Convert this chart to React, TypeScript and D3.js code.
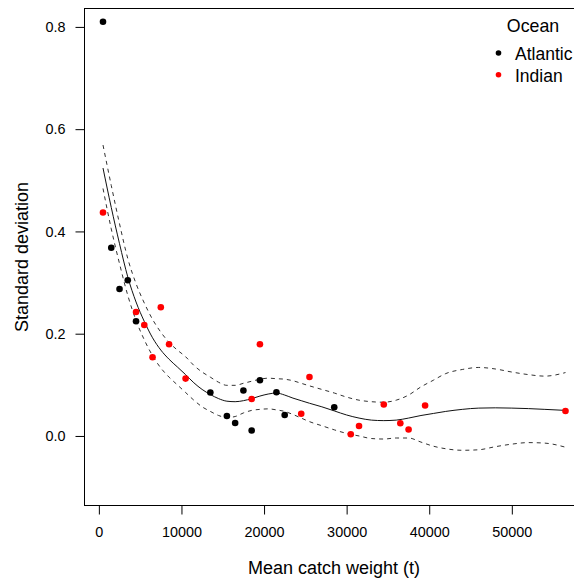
import React, { useEffect, useRef } from 'react';
import * as d3 from 'd3';

// mean catch weight (t) and standard deviation, per ocean
const atlanticX = [500, 1500, 2500, 3500, 4500, 13500, 15500, 16500, 17500, 18500, 19500, 21500, 22500, 28500];
const atlanticY = [0.81, 0.368, 0.2875, 0.3045, 0.2244, 0.0849, 0.0391, 0.0254, 0.0888, 0.0106, 0.109, 0.0855, 0.0411, 0.0561];
const indianX = [500, 4500, 5500, 6500, 7500, 8500, 10500, 18500, 19500, 24500, 25500, 30500, 31500, 34500, 36500, 37500, 39500, 56500];
const indianY = [0.437, 0.2425, 0.2171, 0.1539, 0.2517, 0.1794, 0.1122, 0.0724, 0.1794, 0.0434, 0.1154, 0.0033, 0.0196, 0.0614, 0.0248, 0.0125, 0.0595, 0.0489];

// smoother fit and confidence band
const gridX = [500, 1500, 2500, 3500, 4500, 5500, 6500, 7500, 8500, 9500, 10500, 11500, 12500, 13500, 14500, 15500, 16500, 17500, 18500, 19500, 20500, 21500, 22500, 23500, 24500, 25500, 27000, 28500, 30000, 31500, 33000, 34500, 36000, 37500, 39000, 40500, 42000, 44000, 46000, 48000, 50000, 52000, 54000, 56500];
const fitY = [0.524, 0.447, 0.376, 0.311, 0.262, 0.224, 0.192, 0.168, 0.15, 0.135, 0.12, 0.104, 0.091, 0.081, 0.073, 0.068, 0.067, 0.069, 0.073, 0.078, 0.082, 0.084, 0.08, 0.074, 0.069, 0.064, 0.057, 0.049, 0.041, 0.035, 0.031, 0.03, 0.031, 0.035, 0.04, 0.044, 0.048, 0.052, 0.0545, 0.055, 0.0545, 0.0535, 0.052, 0.05];
const upperY = [0.569, 0.49, 0.415, 0.347, 0.298, 0.26, 0.228, 0.203, 0.183, 0.168, 0.155, 0.138, 0.125, 0.115, 0.105, 0.099, 0.099, 0.103, 0.107, 0.111, 0.113, 0.112, 0.111, 0.108, 0.103, 0.098, 0.091, 0.084, 0.076, 0.07, 0.067, 0.066, 0.07, 0.08, 0.096, 0.109, 0.122, 0.13, 0.134, 0.131, 0.125, 0.12, 0.117, 0.124];
const lowerY = [0.484, 0.405, 0.337, 0.275, 0.226, 0.188, 0.157, 0.133, 0.115, 0.1, 0.085, 0.07, 0.057, 0.048, 0.04, 0.036, 0.038, 0.045, 0.05, 0.052, 0.053, 0.051, 0.048, 0.042, 0.035, 0.028, 0.02, 0.012, 0.005, 0.0, -0.005, -0.006, -0.004, -0.004, -0.012, -0.02, -0.025, -0.028, -0.027, -0.021, -0.016, -0.013, -0.014, -0.022];

const xTicks = [0, 10000, 20000, 30000, 40000, 50000];
const yTicks = [0, 0.2, 0.4, 0.6, 0.8];
const oceans = ['Atlantic', 'Indian'];
const colors = ['#000000', '#ff0000'];

const App = () => {
  const chartRef = useRef<SVGSVGElement>(null);

  useEffect(() => {
    const svg = d3.select(chartRef.current);
    svg.selectAll('*').remove();
    const font = '"Liberation Sans", Arial, sans-serif';

    const x = d3.scaleLinear().domain([-1740, 58740]).range([84.5, 584]);
    const y = d3.scaleLinear().domain([-0.136, 0.836]).range([505.5, 8.5]);

    svg
      .append('rect')
      .attr('x', 84.5)
      .attr('y', 8.5)
      .attr('width', 500)
      .attr('height', 497)
      .attr('fill', 'none')
      .attr('stroke', '#000');

    const xAxis = svg
      .append('g')
      .attr('transform', 'translate(0,505.5)')
      .call(d3.axisBottom(x).tickValues(xTicks).tickFormat(d3.format('d')).tickSize(9).tickPadding(12));
    xAxis.select('.domain').remove();
    xAxis.selectAll('text').attr('font-size', 14.4).attr('font-family', font).attr('fill', '#000');

    const yAxis = svg
      .append('g')
      .attr('transform', 'translate(84.5,0)')
      .call(d3.axisLeft(y).tickValues(yTicks).tickFormat(d3.format('.1f')).tickSize(9).tickPadding(10));
    yAxis.select('.domain').remove();
    yAxis.selectAll('text').attr('font-size', 14.4).attr('font-family', font).attr('fill', '#000');

    svg
      .append('text')
      .attr('x', 334)
      .attr('y', 574)
      .attr('text-anchor', 'middle')
      .attr('font-size', 18)
      .attr('font-family', font)
      .text('Mean catch weight (t)');

    svg
      .append('text')
      .attr('transform', 'translate(28,257) rotate(-90)')
      .attr('text-anchor', 'middle')
      .attr('font-size', 18)
      .attr('font-family', font)
      .text('Standard deviation');

    const line = (ys: number[]) =>
      d3
        .line<number>()
        .x((d, i) => x(gridX[i]))
        .y(d => y(d))
        .curve(d3.curveMonotoneX)(ys);

    svg.append('path').attr('d', line(upperY)).attr('fill', 'none').attr('stroke', '#333').attr('stroke-dasharray', '4,4');
    svg.append('path').attr('d', line(lowerY)).attr('fill', 'none').attr('stroke', '#333').attr('stroke-dasharray', '4,4');
    svg.append('path').attr('d', line(fitY)).attr('fill', 'none').attr('stroke', '#111');

    const pts = [
      ...atlanticX.map((v, i) => ({ x: v, y: atlanticY[i], c: colors[0] })),
      ...indianX.map((v, i) => ({ x: v, y: indianY[i], c: colors[1] }))
    ];
    svg
      .selectAll('.pt')
      .data(pts)
      .enter()
      .append('circle')
      .attr('class', 'pt')
      .attr('cx', d => x(d.x))
      .attr('cy', d => y(d.y))
      .attr('r', 3.3)
      .attr('fill', d => d.c);

    // legend
    const legend = svg.append('g');
    legend
      .append('text')
      .attr('x', 533)
      .attr('y', 32)
      .attr('text-anchor', 'middle')
      .attr('font-size', 17.8)
      .attr('font-family', font)
      .text('Ocean');
    oceans.forEach((o, i) => {
      legend
        .append('circle')
        .attr('cx', 498.5)
        .attr('cy', 53 + i * 21.7)
        .attr('r', 2.8)
        .attr('fill', colors[i]);
      legend
        .append('text')
        .attr('x', 515)
        .attr('y', 59.5 + i * 22.3)
        .attr('font-size', 17.5)
        .attr('font-family', font)
        .text(o);
    });
  }, []);

  return (
    <svg
      ref={chartRef}
      width={574}
      height={581}
      style={{ position: 'absolute', left: 0, top: 0, background: '#fff' }}
    ></svg>
  );
};

export default App;
